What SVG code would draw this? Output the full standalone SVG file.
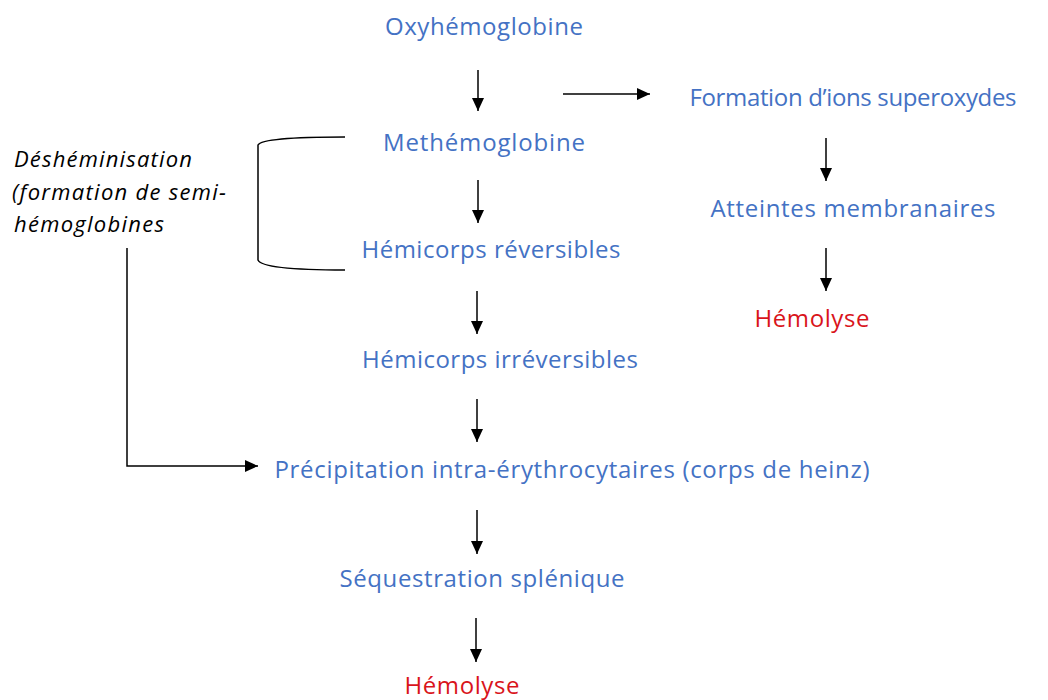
<svg xmlns="http://www.w3.org/2000/svg" width="1048" height="700" viewBox="0 0 1048 700">
<defs>
<marker id="ah" viewBox="0 0 10 10" refX="10" refY="5" markerWidth="13" markerHeight="12" markerUnits="userSpaceOnUse" orient="auto" preserveAspectRatio="none">
<path d="M0,0 L10,5 L0,10 z" fill="#000"/>
</marker>
<style>
.n{font-family:"Open Sans","Noto Sans",sans-serif;font-size:24px;fill:#4472C4;text-anchor:middle}
.r{fill:#D9141B}
.it{font-family:"Open Sans","Noto Sans",sans-serif;font-size:22px;font-style:italic;fill:#000}
.c{stroke:#000;stroke-width:1.5;fill:none}
</style>
</defs>
<rect width="1048" height="700" fill="#fff"/>
<g id="connectors">
<line class="c" x1="478" y1="70" x2="478" y2="111" marker-end="url(#ah)"/>
<line class="c" x1="563" y1="94" x2="650" y2="94" marker-end="url(#ah)"/>
<line class="c" x1="478" y1="180" x2="478" y2="223" marker-end="url(#ah)"/>
<line class="c" x1="477" y1="291" x2="477" y2="334" marker-end="url(#ah)"/>
<line class="c" x1="477" y1="399" x2="477" y2="442" marker-end="url(#ah)"/>
<line class="c" x1="477" y1="510" x2="477" y2="554" marker-end="url(#ah)"/>
<line class="c" x1="476" y1="618" x2="476" y2="662" marker-end="url(#ah)"/>
<line class="c" x1="826" y1="138" x2="826" y2="181" marker-end="url(#ah)"/>
<line class="c" x1="826" y1="248" x2="826" y2="291" marker-end="url(#ah)"/>
<polyline class="c" points="127,248 127,466 258,466" marker-end="url(#ah)"/>
<path class="c" d="M345,137 Q262,137 258,145 L258,260 Q262,270 345,270"/>
</g>
<g id="oxy"><text class="n" x="484" y="35" textLength="198">Oxyhémoglobine</text></g>
<g id="superoxydes"><text class="n" x="853" y="106" textLength="327">Formation d’ions superoxydes</text></g>
<g id="methemo"><text class="n" x="484" y="151" textLength="202">Methémoglobine</text></g>
<g id="atteintes"><text class="n" x="853" y="217" textLength="285">Atteintes membranaires</text></g>
<g id="hemirev"><text class="n" x="491" y="258" textLength="259">Hémicorps réversibles</text></g>
<g id="hemolyse1"><text class="n r" x="812" y="327" textLength="115">Hémolyse</text></g>
<g id="hemiirr"><text class="n" x="500" y="368" textLength="276">Hémicorps irréversibles</text></g>
<g id="precip"><text class="n" x="572" y="478" textLength="595">Précipitation intra-érythrocytaires (corps de heinz)</text></g>
<g id="sequestration"><text class="n" x="482" y="587" textLength="285">Séquestration splénique</text></g>
<g id="hemolyse2"><text class="n r" x="462" y="694" textLength="115">Hémolyse</text></g>
<g id="deshem">
<text class="it" x="14" y="167" textLength="178">Déshéminisation</text>
<text class="it" x="12" y="200" textLength="214">(formation de semi-</text>
<text class="it" x="14" y="232" textLength="150">hémoglobines</text>
</g>
</svg>
